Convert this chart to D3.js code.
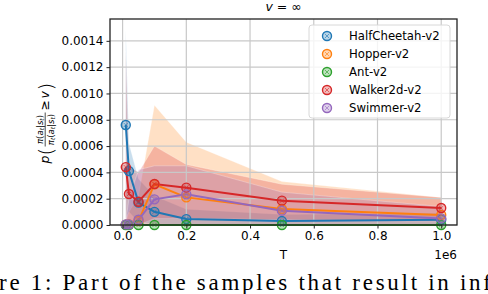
<!DOCTYPE html>
<html>
<head>
<meta charset="utf-8">
<script src="https://cdn.jsdelivr.net/npm/d3@7"></script>
<style>
  body { margin: 0; background: #fff; }
  svg { display: block; font-family: "DejaVu Sans", sans-serif; }
</style>
</head>
<body>
<svg id="chart"></svg>
<script>
// training steps
const steps = [10000, 20000, 50000, 100000, 200000, 500000, 1000000];

const envNames = ['HalfCheetah-v2', 'Hopper-v2', 'Ant-v2', 'Walker2d-v2', 'Swimmer-v2'];
const envColors = ['#1f77b4', '#ff7f0e', '#2ca02c', '#d62728', '#9467bd'];

// mean probability
const halfCheetahMean = [0.00076, 0.00041, 0.00017, 0.00010, 0.000045, 0.00003, 0.00004];
const hopperMean      = [0.000003, 0.000005, 0.00003, 0.00031, 0.00021, 0.000122, 0.000076];
const antMean         = [0, 0, 0, 0, 0, 0, 0];
const walkerMean      = [0.00044, 0.000236, 0.000177, 0.000312, 0.000284, 0.000185, 0.000129];
const swimmerMean     = [0.000005, 0.000005, 0.00004, 0.000195, 0.000233, 0.000109, 0.00005];

// shaded spread (upper / lower)
const halfCheetahHi = [0.00148, 0.00062, 0.00035, 0.00022, 0.00012, 0.00008, 0.00009];
const halfCheetahLo = [0.00005, 0.0001, 0.00002, 0.00001, 0, 0, 0];
const hopperHi      = [0.00002, 0.0001, 0.00022, 0.00091, 0.00063, 0.00033, 0.00021];
const hopperLo      = [0, 0, 0, 0, 0, 0, 0];
const antHi         = [0, 0, 0, 0, 0, 0, 0];
const antLo         = [0, 0, 0, 0, 0, 0, 0];
const walkerHi      = [0.00132, 0.00045, 0.0004, 0.0006, 0.00046, 0.00031, 0.00021];
const walkerLo      = [0, 0, 0, 0.00005, 0.00005, 0.00004, 0.00003];
const swimmerHi     = [0.00003, 0.0002, 0.00042, 0.00045, 0.00045, 0.00025, 0.00014];
const swimmerLo     = [0, 0, 0, 0, 0, 0, 0];

const xTicks = [0, 200000, 400000, 600000, 800000, 1000000];
const yTicks = [0, 0.0002, 0.0004, 0.0006, 0.0008, 0.0010, 0.0012, 0.0014];

const series = [
  {mean: halfCheetahMean, hi: halfCheetahHi, lo: halfCheetahLo},
  {mean: hopperMean, hi: hopperHi, lo: hopperLo},
  {mean: antMean, hi: antHi, lo: antLo},
  {mean: walkerMean, hi: walkerHi, lo: walkerLo},
  {mean: swimmerMean, hi: swimmerHi, lo: swimmerLo}
].map((s, i) => ({...s, name: envNames[i], color: envColors[i]}));

const W = 488, H = 294;
const m = {left: 110, right: 31, top: 19, bottom: 69};

const svg = d3.select('#chart').attr('width', W).attr('height', H);

const x = d3.scaleLinear().domain([-39500, 1049500]).range([m.left, W - m.right]);
const y = d3.scaleLinear().domain([0, 0.001566]).range([H - m.bottom, m.top]);

const plot = svg.append('g');

// bands (drawn below grid, like matplotlib patches)
const area = d3.area()
  .x(d => x(d.t))
  .y0(d => y(d.lo))
  .y1(d => y(d.hi));

series.forEach(s => {
  const pts = steps.map((t, i) => ({t: t, hi: s.hi[i], lo: s.lo[i]}));
  plot.append('path')
    .attr('d', area(pts))
    .attr('fill', s.color)
    .attr('fill-opacity', 0.24)
    .attr('stroke', '#fff')
    .attr('stroke-opacity', 0.35)
    .attr('stroke-width', 0.8);
});

// grid
const grid = svg.append('g').attr('stroke', '#c8c8c8').attr('stroke-width', 1.2);
xTicks.forEach(t => {
  grid.append('line').attr('x1', x(t)).attr('x2', x(t)).attr('y1', m.top).attr('y2', H - m.bottom);
});
yTicks.forEach(t => {
  grid.append('line').attr('x1', m.left).attr('x2', W - m.right).attr('y1', y(t)).attr('y2', y(t));
});

// lines + markers
const line = d3.line().x(d => x(d.t)).y(d => y(d.v));

series.forEach(s => {
  const pts = steps.map((t, i) => ({t: t, v: s.mean[i]}));
  svg.append('path')
    .attr('d', line(pts))
    .attr('fill', 'none')
    .attr('stroke', s.color)
    .attr('stroke-width', 2);
});

function marker(g, cx, cy, color){
  g.append('circle')
    .attr('cx', cx).attr('cy', cy).attr('r', 4.5)
    .attr('fill', color).attr('fill-opacity', 0.3)
    .attr('stroke', color).attr('stroke-width', 1.4);
  const r = 2.2;
  g.append('path')
    .attr('d', `M${cx - r},${cy - r}L${cx + r},${cy + r}M${cx - r},${cy + r}L${cx + r},${cy - r}`)
    .attr('stroke', color).attr('stroke-width', 0.9).attr('stroke-opacity', 0.7);
}

series.forEach(s => {
  const g = svg.append('g');
  steps.forEach((t, i) => marker(g, x(t), y(s.mean[i]), s.color));
});

// spines
svg.append('rect')
  .attr('x', m.left).attr('y', m.top)
  .attr('width', W - m.left - m.right).attr('height', H - m.top - m.bottom)
  .attr('fill', 'none').attr('stroke', '#222').attr('stroke-width', 1.3);

// axes
const xAxis = d3.axisBottom(x).tickValues(xTicks).tickSize(3.5).tickPadding(3)
  .tickFormat(d => d3.format('.1f')(d / 1e6));
const yAxis = d3.axisLeft(y).tickValues(yTicks).tickSize(3.5).tickPadding(3)
  .tickFormat(d3.format('.4f'));

svg.append('g')
  .attr('transform', `translate(0,${H - m.bottom})`)
  .call(xAxis)
  .call(g => g.select('.domain').remove())
  .call(g => g.selectAll('text').attr('font-size', 12).attr('fill', '#000').attr('font-family', 'DejaVu Sans'))
  .call(g => g.selectAll('line').attr('stroke', '#222').attr('stroke-width', 1));

svg.append('g')
  .attr('transform', `translate(${m.left},0)`)
  .call(yAxis)
  .call(g => g.select('.domain').remove())
  .call(g => g.selectAll('text').attr('font-size', 12).attr('fill', '#000').attr('font-family', 'DejaVu Sans'))
  .call(g => g.selectAll('line').attr('stroke', '#222').attr('stroke-width', 1));

// x label and offset
svg.append('text').attr('x', (m.left + W - m.right) / 2).attr('y', 259)
  .attr('text-anchor', 'middle').attr('font-size', 12).text('T');
svg.append('text').attr('x', W - m.right).attr('y', 259)
  .attr('text-anchor', 'end').attr('font-size', 12).text('1e6');

// title
const title = svg.append('text').attr('x', (m.left + W - m.right) / 2).attr('y', 11)
  .attr('text-anchor', 'middle').attr('font-size', 12.5);
title.append('tspan').attr('font-style', 'italic').text('v');
title.append('tspan').text(' = ∞');

// y label: p( π(a_t|s_t) / π_t(a_t|s_t) ≥ v )
const yl = svg.append('g').attr('transform', 'translate(49,122.5) rotate(-90)');
yl.append('text').attr('x', -41).attr('y', 0).attr('font-size', 12.5).attr('font-style', 'italic').text('p');
yl.append('text').attr('x', -33).attr('y', 3.5).attr('font-size', 20).attr('font-weight', 300).text('(');
const fr = yl.append('g').attr('font-size', 8.5).attr('text-anchor', 'middle');
const num = fr.append('text').attr('x', -7).attr('y', -6.4);
num.append('tspan').attr('font-style', 'italic').text('π');
num.append('tspan').text('(');
num.append('tspan').attr('font-style', 'italic').text('a');
num.append('tspan').attr('font-size', 6).attr('dy', 1.5).attr('font-style', 'italic').text('t');
num.append('tspan').attr('dy', -1.5).text('|');
num.append('tspan').attr('font-style', 'italic').text('s');
num.append('tspan').attr('font-size', 6).attr('dy', 1.5).attr('font-style', 'italic').text('t');
num.append('tspan').attr('dy', -1.5).text(')');
const den = fr.append('text').attr('x', -7).attr('y', 4.6);
den.append('tspan').attr('font-style', 'italic').text('π');
den.append('tspan').attr('font-size', 6).attr('dy', 1.5).attr('font-style', 'italic').text('t');
den.append('tspan').attr('dy', -1.5).text('(');
den.append('tspan').attr('font-style', 'italic').text('a');
den.append('tspan').attr('font-size', 6).attr('dy', 1.5).attr('font-style', 'italic').text('t');
den.append('tspan').attr('dy', -1.5).text('|');
den.append('tspan').attr('font-style', 'italic').text('s');
den.append('tspan').attr('font-size', 6).attr('dy', 1.5).attr('font-style', 'italic').text('t');
den.append('tspan').attr('dy', -1.5).text(')');
yl.append('line').attr('x1', -24).attr('x2', 10).attr('y1', -3.8).attr('y2', -3.8)
  .attr('stroke', '#000').attr('stroke-width', 0.7);
yl.append('text').attr('x', 12).attr('y', 0).attr('font-size', 12.5).text('≥');
yl.append('text').attr('x', 24).attr('y', 0).attr('font-size', 12.5).attr('font-style', 'italic').text('v');
yl.append('text').attr('x', 32).attr('y', 3.5).attr('font-size', 20).attr('font-weight', 300).text(')');

// legend
const lg = svg.append('g').attr('transform', 'translate(309,25)');
lg.append('rect').attr('width', 141).attr('height', 93).attr('rx', 3)
  .attr('fill', '#fff').attr('fill-opacity', 0.8)
  .attr('stroke', '#d8d8d8').attr('stroke-width', 1);
series.forEach((s, i) => {
  const cy = 11 + i * 18;
  marker(lg, 18, cy, s.color);
  lg.append('text').attr('x', 40).attr('y', cy + 4.2).attr('font-size', 11.7).text(s.name);
});

// caption fragment from the page below the figure
svg.append('text').attr('x', -1).attr('y', 290)
  .attr('font-family', '"Liberation Serif", "DejaVu Serif", serif')
  .attr('font-size', 23)
  .attr('textLength', 492).attr('lengthAdjust', 'spacing')
  .text('re 1:  Part  of  the  samples  that  result  in  inf');
</script>
</body>
</html>
